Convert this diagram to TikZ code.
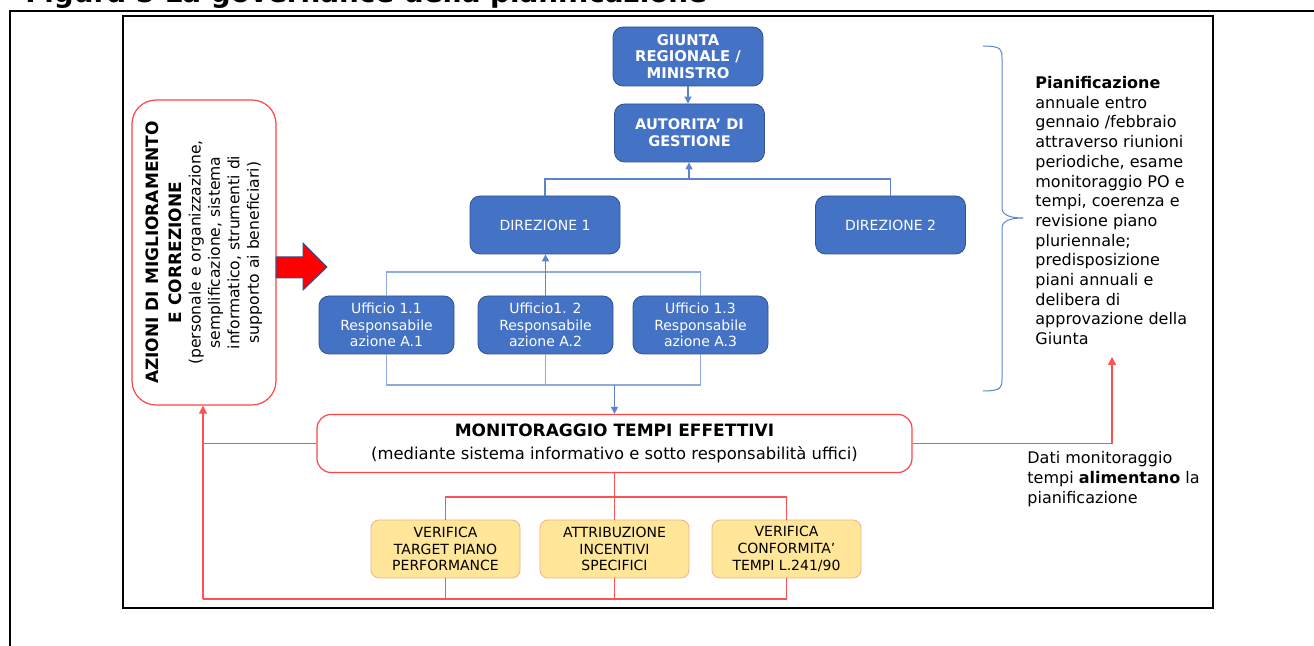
\documentclass[tikz,border=0pt]{standalone}
\usepackage{fontspec}
\setmainfont{DejaVu Sans}
\usetikzlibrary{positioning,arrows.meta}
\definecolor{boxblue}{HTML}{4472C4}
\definecolor{edgeblue}{HTML}{2F528F}
\definecolor{lineblue}{HTML}{5B83CE}
\definecolor{paleblue}{HTML}{8FAADC}
\definecolor{boxred}{HTML}{FF4545}
\definecolor{linered}{HTML}{FF5252}
\definecolor{boxyellow}{HTML}{FFE699}
\definecolor{edgeorange}{HTML}{F4B183}

\begin{document}
\begin{tikzpicture}[x=0.5pt, y=-0.5pt,
  orgbox/.style={draw=edgeblue, fill=boxblue, text=white, rounded corners=5pt, align=center,
    minimum width=75pt, minimum height=29pt, inner sep=1pt, font=\fontsize{7}{8.35}\selectfont},
  uffbox/.style={orgbox, minimum width=67.5pt},
  checkbox/.style={draw=edgeorange, fill=boxyellow, rounded corners=4pt, align=center,
    minimum width=74.5pt, minimum height=29pt, inner sep=1pt, font=\fontsize{7}{8.35}\selectfont},
  redbox/.style={draw=boxred, fill=white, rounded corners=7pt, line width=0.6pt},
  bluline/.style={lineblue, line width=0.6pt},
  paleline/.style={paleblue, line width=0.6pt},
  bluarrow/.style={bluline, -{Triangle[width=3.5pt,length=3.5pt]}},
  redline/.style={linered, line width=0.6pt},
  redarrow/.style={redline, -{Triangle[width=4pt,length=4pt]}},
  note/.style={anchor=north west, inner sep=0pt, align=left, font=\fontsize{8}{9.85}\selectfont}
]
\useasboundingbox (0,0) rectangle (1314,646);

% frames and title
\node[anchor=base west, inner sep=0pt, font=\bfseries\fontsize{13.9}{16}\selectfont] (title) at (25,3) {Figura 5 La governance della pianificazione};
\draw[line width=1pt] (10,700) -- (10,11) -- (1400,11);
\draw[line width=0.8pt] (123,16) rectangle (1213,608);

% organisation chart
\node[orgbox, minimum height=29.5pt, font=\bfseries\fontsize{7.4}{8.35}\selectfont] (giunta) at (688,56.5) {GIUNTA\\REGIONALE /\\MINISTRO};
\node[orgbox, font=\bfseries\fontsize{7.3}{8.35}\selectfont] (autorita) at (689.5,133) {AUTORITA’ DI\\GESTIONE};
\node[orgbox] (dir1) at (545,225) {DIREZIONE 1};
\node[orgbox] (dir2) at (890.5,225) {DIREZIONE 2};
\node[uffbox] (uff1) at (386.5,325) {Ufficio 1.1\\Responsabile\\azione A.1};
\node[uffbox] (uff2) at (545.5,325) {Ufficio1. 2\\Responsabile\\azione A.2};
\node[uffbox] (uff3) at (700.5,325) {Ufficio 1.3\\Responsabile\\azione A.3};

\coordinate (jdir) at (689,179);
\coordinate (jtop) at (545,272);
\coordinate (jbot) at (545,385);
\draw[bluarrow] (giunta.south) -- (giunta.south |- autorita.north);
\draw[bluline] (dir1.north) |- (jdir) -| (dir2.north);
\draw[bluarrow] (jdir) -- (jdir |- autorita.south);
\draw[paleline] (uff1.north) |- (jtop) -| (uff3.north);
\draw[bluarrow] (uff2.north) -- (uff2.north |- dir1.south);
\draw[paleline] (uff1.south) |- (jbot) -| (uff3.south);
\draw[paleline] (uff2.south) -- (uff2.south |- jbot);

% monitoring
\node[redbox, minimum width=297.5pt, minimum height=29pt, align=center] (monit) at (614.5,443.5)
  {{\bfseries\fontsize{8.5}{10}\selectfont MONITORAGGIO TEMPI EFFETTIVI}\\[-0.5pt]
   {\fontsize{8.2}{10}\selectfont (mediante sistema informativo e sotto responsabilità uffici)}};
\draw[bluarrow] (monit.north |- jbot) -- (monit.north);

\node[checkbox] (ver1) at (445.5,549) {VERIFICA\\TARGET PIANO\\PERFORMANCE};
\node[checkbox] (attr) at (614.5,549) {ATTRIBUZIONE\\INCENTIVI\\SPECIFICI};
\node[checkbox] (ver2) at (786.5,549) {VERIFICA\\CONFORMITA’\\TEMPI L.241/90};

\coordinate (jmon) at (614.5,497);
\coordinate (jleft) at (203,599);
\coordinate (pianin) at (1112,357);
\draw[redline] (monit.south) -- (jmon);
\draw[redline] (ver1.north) |- (jmon) -| (ver2.north);
\draw[redline] (attr.north) -- (jmon);
\draw[redline] (ver2.south) |- (jleft);
\draw[redline] (ver1.south) -- (ver1.south |- jleft);
\draw[redline] (attr.south) -- (attr.south |- jleft);

% corrective actions
\node[redbox, rounded corners=12pt, minimum width=72pt, minimum height=152.5pt] (azioni) at (204,252.5) {};
\node[rotate=90, align=center, inner sep=0pt, font=\fontsize{7.8}{9.7}\selectfont] (azionitxt) at (azioni.center)
  {{\bfseries\fontsize{8.5}{9.7}\selectfont AZIONI DI MIGLIORAMENTO}\\[1.6pt]
   {\bfseries\fontsize{8.5}{9.7}\selectfont E CORREZIONE}\\
   (personale e organizzazione,\\semplificazione, sistema\\informatico, strumenti di\\supporto ai beneficiari)};
\draw[redarrow] (jleft) -- (jleft |- azioni.south);
\draw[redline] (monit.west) -- (monit.west -| jleft);
\draw[redarrow] (monit.east) -| (pianin);
\draw[fill=red, draw=edgeblue, line width=0.5pt] (276,257) -- (303,257) -- (303,243) -- (327,267)
  -- (303,290) -- (303,278) -- (276,278) -- cycle;

% planning
\draw[lineblue, line width=0.5pt] (983,46) .. controls (1002,46) and (1002,50) .. (1002,58) -- (1002,208)
  .. controls (1002,215) and (1010,218) .. (1023,218) .. controls (1010,218) and (1002,221) .. (1002,228)
  -- (1002,379) .. controls (1002,387) and (1002,391) .. (983,391);
\node[note] (pian) at (1035,76) {\textbf{Pianificazione}\\annuale entro\\gennaio /febbraio\\attraverso riunioni\\periodiche, esame\\monitoraggio PO e\\tempi, coerenza e\\revisione piano\\pluriennale;\\predisposizione\\piani annuali e\\delibera di\\approvazione della\\Giunta};
\node[note, font=\fontsize{8}{10}\selectfont] (dati) at (1027,451) {Dati monitoraggio\\tempi \textbf{alimentano} la\\pianificazione};
\end{tikzpicture}
\end{document}
